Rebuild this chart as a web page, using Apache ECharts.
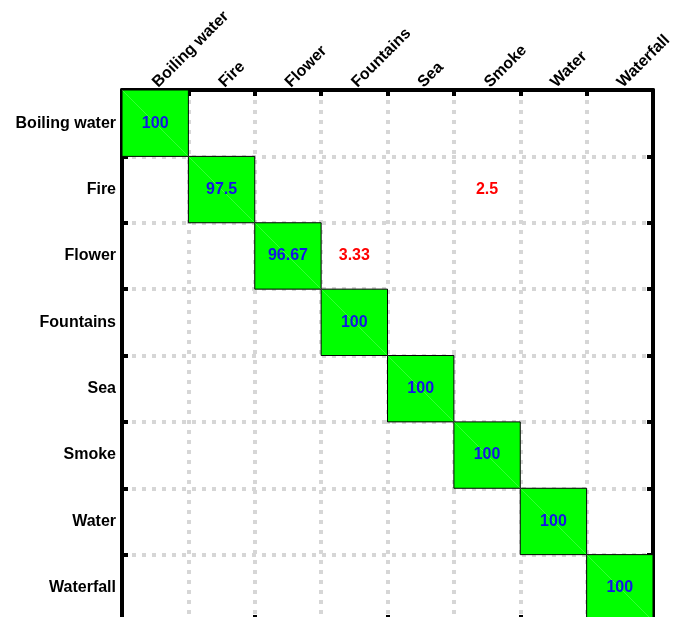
<!DOCTYPE html>
<html>
<head>
    <meta charset="utf-8">
    <script src="https://cdn.jsdelivr.net/npm/echarts@6/dist/echarts.min.js"></script>
    <style>
        html, body { margin: 0; padding: 0; background: #fff; }
        #main { width: 689px; height: 617px; }
    </style>
</head>
<body>
    <div id="main"></div>
<script type="text/javascript">
    // class names (rows = actual, columns = predicted)
    var classes = ['Boiling water', 'Fire', 'Flower', 'Fountains', 'Sea', 'Smoke', 'Water', 'Waterfall'];

    // non-zero cells: [column index, row index, percent]
    var cells = [
        [0, 0, 100],
        [1, 1, 97.5],
        [5, 1, 2.5],
        [2, 2, 96.67],
        [3, 2, 3.33],
        [3, 3, 100],
        [4, 4, 100],
        [5, 5, 100],
        [6, 6, 100],
        [7, 7, 100]
    ];

    var myChart = echarts.init(document.getElementById('main'));

    var gridLine = {
        show: true,
        lineStyle: { color: '#d6d6d6', width: 4, type: [4, 6] }
    };
    var axLine = { show: true, lineStyle: { color: '#000', width: 4 } };
    var axTick = { show: true, inside: true, length: 6, lineStyle: { color: '#000', width: 4 } };
    var labelFont = { color: '#000', fontSize: 16, fontWeight: 'bold', fontFamily: 'Liberation Sans, Arial, sans-serif' };

    var option = {
        backgroundColor: '#fff',
        animation: false,
        grid: { left: 122, top: 90, width: 531, height: 531, outerBoundsMode: 'none', containLabel: false },
        xAxis: [
            {
                type: 'category',
                data: classes,
                position: 'top',
                axisLine: axLine,
                axisTick: axTick,
                splitLine: gridLine,
                axisLabel: Object.assign({ rotate: -45, margin: 5, interval: 0 }, labelFont)
            },
            {
                type: 'category',
                data: classes,
                position: 'bottom',
                axisLine: axLine,
                axisTick: axTick,
                axisLabel: { show: false }
            }
        ],
        yAxis: [
            {
                type: 'category',
                data: classes,
                inverse: true,
                axisLine: axLine,
                axisTick: axTick,
                splitLine: gridLine,
                axisLabel: Object.assign({ margin: 6, interval: 0 }, labelFont)
            },
            {
                type: 'category',
                data: classes,
                inverse: true,
                position: 'right',
                axisLine: axLine,
                axisTick: axTick,
                axisLabel: { show: false }
            }
        ],
        series: [
            {
                type: 'custom',
                data: cells,
                z: 5,
                renderItem: function (params, api) {
                    var cx = api.value(0), cy = api.value(1), v = api.value(2);
                    var p = api.coord([cx, cy]);
                    var s = api.size([1, 1]);
                    var x0 = p[0] - s[0] / 2, y0 = p[1] - s[1] / 2;
                    var diag = cx === cy;
                    var kids = [];
                    if (diag) {
                        kids.push({
                            type: 'rect',
                            shape: { x: x0, y: y0, width: s[0], height: s[1] },
                            style: { fill: '#00ff00', stroke: '#000', lineWidth: 1 }
                        });
                        kids.push({
                            type: 'line',
                            shape: { x1: x0, y1: y0, x2: x0 + s[0], y2: y0 + s[1] },
                            style: { stroke: 'rgba(255,255,255,0.3)', lineWidth: 0.7 }
                        });
                    }
                    kids.push({
                        type: 'text',
                        style: {
                            text: String(v),
                            x: p[0],
                            y: p[1],
                            align: 'center',
                            verticalAlign: 'middle',
                            fill: diag ? '#1414e6' : '#ff0000',
                            font: 'bold 16px "Liberation Sans", Arial, sans-serif'
                        }
                    });
                    return { type: 'group', children: kids };
                }
            }
        ]
    };

    myChart.setOption(option);
</script>
</body>
</html>
